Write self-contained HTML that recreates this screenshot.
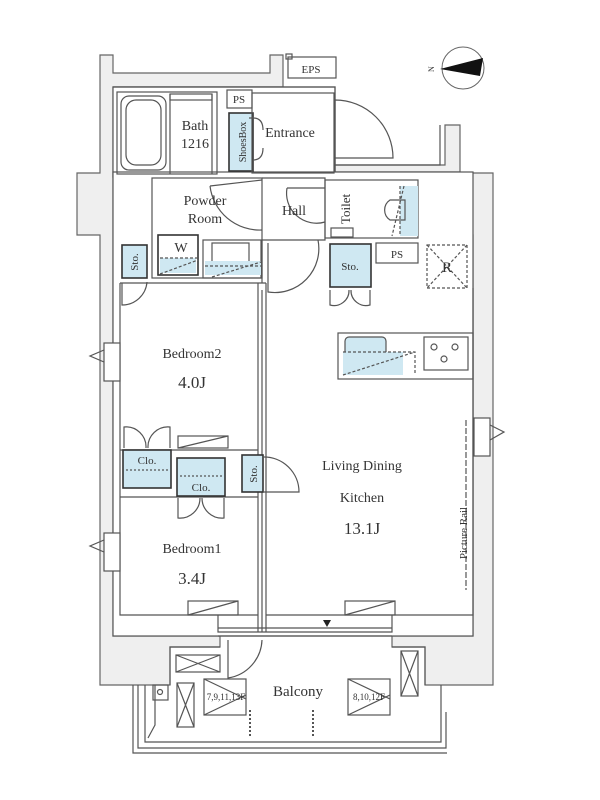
<!DOCTYPE html><html><head><meta charset="utf-8"><style>
body{margin:0;background:#fff}
svg{display:block}
text{font-family:"Liberation Serif",serif;fill:#333}
</style></head><body>
<svg width="600" height="800" viewBox="0 0 600 800" xmlns="http://www.w3.org/2000/svg">
<g stroke="#666" stroke-width="1.2" fill="#efefef">
<path d="M100 55 V173 H77 V235 H100 V685 H170 V647 H220 V636 H113 V87 H283 V55 H270 V73 H113 V55 Z"/>
<path d="M445 125 V165 H335 V172 H460 V235 H473 V636 H392 V647 H425 V685 H493 V235 V173 H460 V125 Z"/>
</g>
<g stroke="#555" stroke-width="1.2" fill="none">
<rect x="113" y="87" width="222" height="90" fill="#fff"/>
<rect x="113" y="172" width="360" height="464" fill="#fff"/>
<path d="M113 87 H335 V172"/>
<rect x="288" y="57" width="48" height="21" fill="#fff"/>
<rect x="286" y="54" width="6" height="5"/>
<rect x="117" y="92" width="100" height="82"/>
<rect x="121" y="96" width="45" height="74" rx="8"/>
<rect x="126" y="100" width="35" height="65" rx="10"/>
<rect x="170" y="94" width="42" height="6"/>
<path d="M170 94 V174 M212 94 V174"/>
<rect x="227" y="90" width="25" height="18"/>
<rect x="229" y="113" width="24" height="58" fill="#cfe8f2" stroke="#333" stroke-width="1.6"/>
<path d="M253 118 q10 0 10 12 M253 118 h-4 M253 160 q10 0 10 -12"/>
<rect x="252" y="93" width="82" height="80"/>
<path d="M335 100 V158 M335 100 A58 58 0 0 1 393 158 H335"/>
<path d="M335 158 V165 H440 V125" />
<rect x="152" y="178" width="110" height="100"/>
<path d="M210 186 A50 50 0 0 0 262 230 M210 186 L262 180"/>
<rect x="158" y="235" width="40" height="40" stroke="#333" stroke-width="1.6"/>
<rect x="160" y="258" width="36" height="15" fill="#cfe8f2" stroke="none"/>
<rect x="203" y="240" width="58" height="38"/>
<rect x="212" y="243" width="37" height="30"/>
<rect x="205" y="261" width="56" height="14" fill="#cfe8f2" stroke="none"/>
<path d="M160 258 H198 M205 266 H261 M160 274 L198 260 M212 277 L261 262" stroke-dasharray="3 2"/>
<rect x="122" y="245" width="25" height="33" fill="#cfe8f2" stroke="#333" stroke-width="1.6"/>
<path d="M122 283 V305 A25 25 0 0 0 147 282"/>
<path d="M262 178 H325 V240 H262"/>
<path d="M287 188 A30 30 0 0 0 325 222 M287 188 H325"/>
<path d="M268 243 V292 A44 44 0 0 0 318 240"/>
<rect x="325" y="180" width="93" height="58"/>
<rect x="400" y="186" width="18" height="50" fill="#cfe8f2" stroke="none"/>
<path d="M400 186 V236 M404 186 L392 236" stroke-dasharray="3 2"/>
<path d="M405 200 H390 A12 12 0 0 0 390 220 H405 Z"/>
<rect x="331" y="228" width="22" height="9"/>
<rect x="330" y="244" width="41" height="43" fill="#cfe8f2" stroke="#333" stroke-width="1.6"/>
<path d="M330 290 V305 A15 15 0 0 0 349 290 M370 290 V305 A15 15 0 0 1 351 290"/>
<rect x="376" y="243" width="42" height="20"/>
<rect x="427" y="245" width="40" height="43" stroke-dasharray="3 2"/>
<path d="M427 245 L467 288 M467 245 L427 288" stroke-dasharray="3 2"/>
<path d="M120 283 H266 M258 283 V632 M266 283 V632 M262 240 V283 M262 290 V632"/>
<path d="M120 283 V615 H258 M266 615 H473 V288"/>
<rect x="338" y="333" width="135" height="46"/>
<rect x="345" y="337" width="41" height="32" rx="4" fill="#cfe8f2"/>
<rect x="343" y="352" width="60" height="23" fill="#cfe8f2" stroke="none"/>
<path d="M343 352 H415 V375 M343 375 L415 352" stroke-dasharray="3 2"/>
<rect x="424" y="337" width="44" height="33"/>
<circle cx="434" cy="347" r="3"/><circle cx="455" cy="347" r="3"/><circle cx="444" cy="359" r="3"/>
<path d="M120 450 H258 M120 497 H258"/>
<rect x="123" y="450" width="48" height="38" fill="#cfe8f2" stroke="#333" stroke-width="1.6"/>
<rect x="177" y="458" width="48" height="38" fill="#cfe8f2" stroke="#333" stroke-width="1.6"/>
<path d="M126 470 H168 M180 476 H222" stroke-dasharray="2 2"/>
<rect x="242" y="455" width="21" height="37" fill="#cfe8f2" stroke="#333" stroke-width="1.6"/>
<path d="M263 457 A35 35 0 0 1 299 492 H263"/>
<path d="M124 448 V427 A20 20 0 0 1 146 448 M170 448 V427 A20 20 0 0 0 148 448"/>
<path d="M178 498 V518 A20 20 0 0 0 200 498 M224 498 V518 A20 20 0 0 1 202 498"/>
<rect x="178" y="436" width="50" height="12"/><path d="M178 448 L228 436"/>
<rect x="188" y="601" width="50" height="14"/><path d="M188 615 L238 601"/>
<rect x="345" y="601" width="50" height="14"/><path d="M345 615 L395 601"/>
<g fill="#fff"><rect x="104" y="343" width="16" height="38"/><rect x="104" y="533" width="16" height="38"/><rect x="474" y="418" width="16" height="38"/></g>
<path d="M104 350 L90 356 L104 362 M104 540 L90 546 L104 552 M490 425 L504 432 L490 440"/>
<path d="M466 420 V590" stroke-dasharray="6 2"/>
<path d="M218 615 V632 H392 V615 M218 628 H392 M218 636 H392"/>
<path d="M228 640 V678 A40 40 0 0 0 262 640"/>
<path d="M170 685 V647 H220 M392 647 H425 V685"/>
<path d="M145 685 V742 H441 V685 M138 685 V748 H446 V712 M133 685 V753 H447 M155 685 V725 L148 738"/>
<rect x="153" y="685" width="15" height="15"/><circle cx="160" cy="692" r="2.5"/>
<rect x="176" y="655" width="44" height="17"/><path d="M176 655 L220 672 M176 672 L220 655"/>
<rect x="177" y="683" width="17" height="44"/><path d="M177 683 L194 727 M194 683 L177 727"/>
<rect x="401" y="651" width="17" height="45"/><path d="M401 651 L418 696 M418 651 L401 696"/>
<rect x="204" y="679" width="42" height="36"/><path d="M204 679 L246 699 M204 715 L246 695"/>
<rect x="348" y="679" width="42" height="36"/><path d="M348 679 L390 699 M348 715 L390 695"/>
<path d="M250 710 V738 M313 710 V738" stroke-dasharray="2 2" stroke-width="2"/>
</g>
<polygon points="323,620 331,620 327,627" fill="#222"/>
<circle cx="463" cy="68" r="21" fill="none" stroke="#666"/>
<polygon points="440,69 483,58 480,76" fill="#111"/>
<text x="428" y="72" font-size="8" transform="rotate(-90 431 69)">N</text>
<g font-size="14" text-anchor="middle">
<text x="195" y="130">Bath</text><text x="195" y="148">1216</text>
<text x="290" y="137">Entrance</text>
<text x="205" y="205">Powder</text><text x="205" y="223">Room</text>
<text x="294" y="215">Hall</text>
<text x="192" y="358">Bedroom2</text>
<text x="192" y="388" font-size="17">4.0J</text>
<text x="362" y="470">Living Dining</text>
<text x="362" y="502">Kitchen</text>
<text x="362" y="534" font-size="17">13.1J</text>
<text x="192" y="553">Bedroom1</text>
<text x="192" y="584" font-size="17">3.4J</text>
<text x="298" y="696" font-size="15">Balcony</text>
</g>
<g font-size="11" text-anchor="middle">
<text x="311" y="73">EPS</text><text x="239" y="103">PS</text><text x="397" y="258">PS</text>
<text x="181" y="252" font-size="14">W</text><text x="447" y="272" font-size="15">R</text>
<text x="350" y="270">Sto.</text>
<text x="147" y="464">Clo.</text><text x="201" y="491">Clo.</text>
<text x="226" y="700" font-size="9">7,9,11,13F</text><text x="369" y="700" font-size="9">8,10,12F</text>
<text transform="translate(138 262) rotate(-90)">Sto.</text>
<text transform="translate(257 474) rotate(-90)">Sto.</text>
<text transform="translate(246 142) rotate(-90)" font-size="10">ShoesBox</text>
<text transform="translate(350 209) rotate(-90)" font-size="13">Toilet</text>
<text transform="translate(467 533) rotate(-90)" font-size="11">Picture Rail</text>
</g>
</svg>
</body></html>
